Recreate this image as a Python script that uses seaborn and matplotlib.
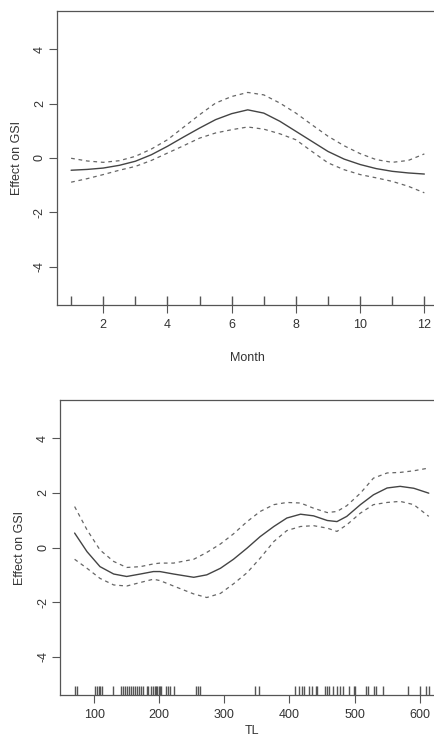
import matplotlib
matplotlib.use('Agg')
import matplotlib.pyplot as plt
import seaborn as sns
import pandas as pd

### DATA

# month smooth (fit and +/- 2 se bands)
month = [1, 1.5, 2, 2.5, 3, 3.5, 4, 4.5, 5, 5.5, 6, 6.5, 7, 7.5, 8, 8.5, 9, 9.5, 10, 10.5, 11, 11.5, 12]
month_fit = [-0.45, -0.42, -0.37, -0.27, -0.12, 0.12, 0.43, 0.77, 1.10, 1.41, 1.63, 1.77, 1.65, 1.35,
             0.98, 0.61, 0.24, -0.04, -0.24, -0.39, -0.49, -0.55, -0.59]
month_upper = [-0.01, -0.11, -0.16, -0.10, 0.06, 0.33, 0.67, 1.13, 1.59, 2.02, 2.26, 2.41, 2.32, 2.02,
               1.65, 1.22, 0.80, 0.45, 0.16, -0.06, -0.16, -0.09, 0.15]
month_lower = [-0.89, -0.76, -0.61, -0.45, -0.31, -0.09, 0.18, 0.45, 0.73, 0.92, 1.04, 1.14, 1.06, 0.89,
               0.67, 0.24, -0.18, -0.43, -0.61, -0.73, -0.86, -1.04, -1.28]
month_rug = [1, 2, 3, 4, 5, 6, 7, 8, 9, 10, 11, 12]

# TL smooth
tl = [70, 89, 109, 130, 150, 171, 191, 201, 222, 253, 273, 294, 314, 335, 355, 376, 396, 417,
      437, 458, 473, 488, 509, 529, 550, 570, 591, 614]
tl_fit = [0.53, -0.15, -0.70, -0.97, -1.06, -0.97, -0.88, -0.88, -0.97, -1.09, -1.00, -0.76, -0.43,
          -0.02, 0.40, 0.77, 1.08, 1.22, 1.16, 0.99, 0.95, 1.14, 1.57, 1.93, 2.18, 2.24, 2.17, 1.99]
tl_upper = [1.50, 0.65, -0.09, -0.51, -0.73, -0.70, -0.60, -0.57, -0.57, -0.43, -0.18, 0.13, 0.50,
            0.95, 1.32, 1.57, 1.65, 1.63, 1.44, 1.28, 1.32, 1.53, 1.99, 2.54, 2.73, 2.75, 2.81, 2.91]
tl_lower = [-0.43, -0.76, -1.13, -1.37, -1.41, -1.28, -1.16, -1.21, -1.41, -1.70, -1.83, -1.68, -1.33,
            -0.92, -0.39, 0.22, 0.62, 0.77, 0.80, 0.71, 0.59, 0.83, 1.26, 1.57, 1.65, 1.69, 1.57, 1.14]
tl_rug = [70, 73, 101, 104, 107, 109, 112, 129, 141, 144, 147, 150, 153, 157, 160, 163, 166, 169,
          172, 175, 181, 183, 187, 190, 193, 195, 197, 199, 201, 203, 210, 213, 217, 222, 256, 259,
          263, 347, 353, 409, 415, 419, 423, 430, 434, 441, 443, 454, 458, 461, 467, 473, 478, 482,
          492, 499, 501, 518, 521, 530, 533, 543, 582, 600, 610, 614]

### PLOT

sns.set_style('ticks')
plt.rcParams['font.family'] = ['Liberation Sans', 'DejaVu Sans']
plt.rcParams['axes.unicode_minus'] = False

fig = plt.figure(figsize=(4.35, 7.4), dpi=100)

# panel positions (right edge runs off the picture, as in the original)
ax1 = fig.add_axes([0.131, 0.588, 0.877, 0.397])
ax2 = fig.add_axes([0.1386, 0.0608, 0.88, 0.3986])

line_col = '#444444'
band_col = '#666666'
axis_col = '#555555'


def draw_panel(ax, x, fit, up, lo, rug, xlim, xticks, xlabel, xpad):
    df = pd.DataFrame({'x': x, 'fit': fit, 'up': up, 'lo': lo})
    sns.lineplot(data=df, x='x', y='fit', ax=ax, color=line_col, lw=1.0)
    sns.lineplot(data=df, x='x', y='up', ax=ax, color=band_col, lw=0.9, dashes=False,
                 linestyle=(0, (3, 3)))
    sns.lineplot(data=df, x='x', y='lo', ax=ax, color=band_col, lw=0.9, dashes=False,
                 linestyle=(0, (3, 3)))
    sns.rugplot(x=rug, ax=ax, height=0.03, color='#555555', lw=0.7)

    ax.set_xlim(*xlim)
    ax.set_ylim(-5.4, 5.4)
    ax.set_xticks(xticks)
    ax.set_yticks([-4, -2, 0, 2, 4])
    ax.tick_params(axis='both', direction='out', length=6, width=0.8, colors=axis_col,
                   labelcolor='#333333', labelsize=9)
    ax.tick_params(axis='y', labelrotation=90, pad=2)
    ax.tick_params(axis='x', pad=4)
    for lab in ax.get_yticklabels():
        lab.set_va('center')

    ax.set_xlabel(xlabel, fontsize=9, color='#333333', labelpad=xpad)
    ax.set_ylabel('Effect on GSI', fontsize=9, color='#333333', labelpad=8)

    for s in ax.spines.values():
        s.set_visible(True)
        s.set_color(axis_col)
        s.set_linewidth(0.9)


draw_panel(ax1, month, month_fit, month_upper, month_lower, month_rug,
           (0.56, 12.44), [2, 4, 6, 8, 10, 12], 'Month', 15)
draw_panel(ax2, tl, tl_fit, tl_upper, tl_lower, tl_rug,
           (48, 636), [100, 200, 300, 400, 500, 600], 'TL', 3)

plt.savefig('out.png', dpi=100)
